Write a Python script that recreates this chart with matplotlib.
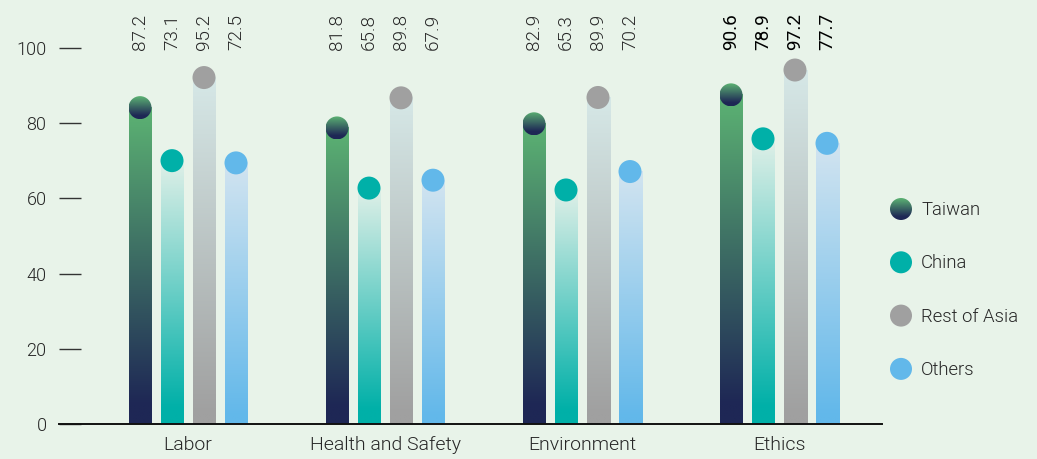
import numpy as np
import matplotlib
matplotlib.use("Agg")
import matplotlib.pyplot as plt
from matplotlib.patches import Ellipse, Circle
from matplotlib.colors import to_rgba

plt.rcParams['font.family'] = ['Roboto', 'DejaVu Sans']
plt.rcParams['font.weight'] = 300

categories = ['Labor', 'Health and Safety', 'Environment', 'Ethics']
series_names = ['Taiwan', 'China', 'Rest of Asia', 'Others']
taiwan = [87.2, 81.8, 82.9, 90.6]
china = [73.1, 65.8, 65.3, 78.9]
rest_of_asia = [95.2, 89.8, 89.9, 97.2]
others = [72.5, 67.9, 70.2, 77.7]
yticks = [0, 20, 40, 60, 80, 100]

series = [taiwan, china, rest_of_asia, others]

BG = '#e8f3e9'
# (bottom colour, top colour, dot colour) per series
bar_bottom = ['#1e2755', '#00b0a8', '#a0a0a0', '#62b8ea']
bar_top = ['#5cb373', '#e0f0e8', '#d6e8e7', '#d2e4f0']
dot_color = [None, '#00b0a8', '#a0a0a0', '#62b8ea']
dot_grad = ('#5cb373', '#1e2755')  # top, bottom for the Taiwan dot
TXT = '#262626'

W, H = 1037, 459
fig = plt.figure(figsize=(W / 100, H / 100), dpi=100, facecolor=BG)

px_per_unit = 3.76
ymax = 105
ax_left, ax_right, y0_px = 59, 882, 424
ax = fig.add_axes([ax_left / W, (H - y0_px) / H,
                   (ax_right - ax_left) / W, ymax * px_per_unit / H])
ax.set_facecolor(BG)

group_px = 197.0
first_center_px = 188
xlo = -(first_center_px - ax_left) / group_px
xhi = (ax_right - first_center_px) / group_px
ax.set_xlim(xlo, xhi)
ax.set_ylim(0, ymax)

bar_w = 23 / group_px
step = 32 / group_px
offsets = (np.arange(4) - 1.5) * step
r_x = bar_w / 2
r_y = 11.5 / px_per_unit


def gradient_img(bottom, top, n=256, hold=0.0):
    t = np.linspace(0, 1, n)
    t = np.clip((t - hold) / (1 - hold), 0, 1)
    b = np.array(to_rgba(bottom))
    tp = np.array(to_rgba(top))
    cols = b[None, :] * (1 - t[:, None]) + tp[None, :] * t[:, None]
    return cols[:, None, :]


for si, vals in enumerate(series):
    for gi, v in enumerate(vals):
        xc = gi + offsets[si]
        x0, x1 = xc - bar_w / 2, xc + bar_w / 2
        cy = v - r_y  # the dot caps the bar, its top edge sits at the value
        img = gradient_img(bar_bottom[si], bar_top[si],
                           hold=0.06 if si in (0, 1) else 0.03)
        ax.imshow(img, extent=[x0, x1, 0, cy], origin='lower',
                  aspect='auto', interpolation='bilinear', zorder=2)
        if si == 0:
            ell = Ellipse((xc, cy), 2 * r_x, 2 * r_y, facecolor='none',
                          edgecolor='none', zorder=3)
            ax.add_patch(ell)
            im = ax.imshow(gradient_img(dot_grad[1], dot_grad[0], hold=0.15),
                           extent=[x0, x1, cy - r_y, cy + r_y],
                           origin='lower', aspect='auto',
                           interpolation='bilinear', zorder=3)
            im.set_clip_path(ell)
        else:
            ax.add_patch(Ellipse((xc, cy), 2 * r_x, 2 * r_y,
                                 facecolor=dot_color[si], edgecolor='none',
                                 zorder=3))
        ax.text(xc, 99.5, f'{v:.1f}', rotation=90, ha='center', va='bottom',
                fontsize=13.6, color='#000000' if gi == 3 else TXT,
                fontweight=400 if gi == 3 else 300, clip_on=False)

ax.set_xlim(xlo, xhi)
ax.set_ylim(0, ymax)

ax.set_xticks(range(len(categories)))
ax.set_xticklabels(categories, fontsize=14, color=TXT)
ax.tick_params(axis='x', length=0, pad=9)
ax.set_yticks(yticks)
ax.set_yticklabels([str(t) for t in yticks], fontsize=13, color=TXT)
ax.tick_params(axis='y', direction='in', length=16, width=1.0,
               color='#333333', pad=9)
for s in ['left', 'right', 'top']:
    ax.spines[s].set_visible(False)
ax.spines['bottom'].set_color('#111111')
ax.spines['bottom'].set_linewidth(1.4)
ax.spines['bottom'].set_zorder(4)

# legend in figure pixel space
lax = fig.add_axes([0, 0, 1, 1], facecolor='none')
lax.set_xlim(0, W)
lax.set_ylim(H, 0)
lax.axis('off')
leg_x, leg_y0, leg_dy, leg_r = 901, 209, 53.3, 11
for i, name in enumerate(series_names):
    cy = leg_y0 + i * leg_dy
    if i == 0:
        c = Circle((leg_x, cy), leg_r, facecolor='none', edgecolor='none')
        lax.add_patch(c)
        im = lax.imshow(gradient_img(dot_grad[1], dot_grad[0], hold=0.15),
                        extent=[leg_x - leg_r, leg_x + leg_r,
                                cy + leg_r, cy - leg_r],
                        origin='lower', aspect='auto',
                        interpolation='bilinear')
        im.set_clip_path(c)
    else:
        lax.add_patch(Circle((leg_x, cy), leg_r, facecolor=dot_color[i],
                             edgecolor='none'))
    lax.text(leg_x + 20, cy + 1, name, ha='left', va='center',
             fontsize=13.3, color=TXT)
lax.set_xlim(0, W)
lax.set_ylim(H, 0)

fig.savefig('out.png', dpi=100, facecolor=BG)
